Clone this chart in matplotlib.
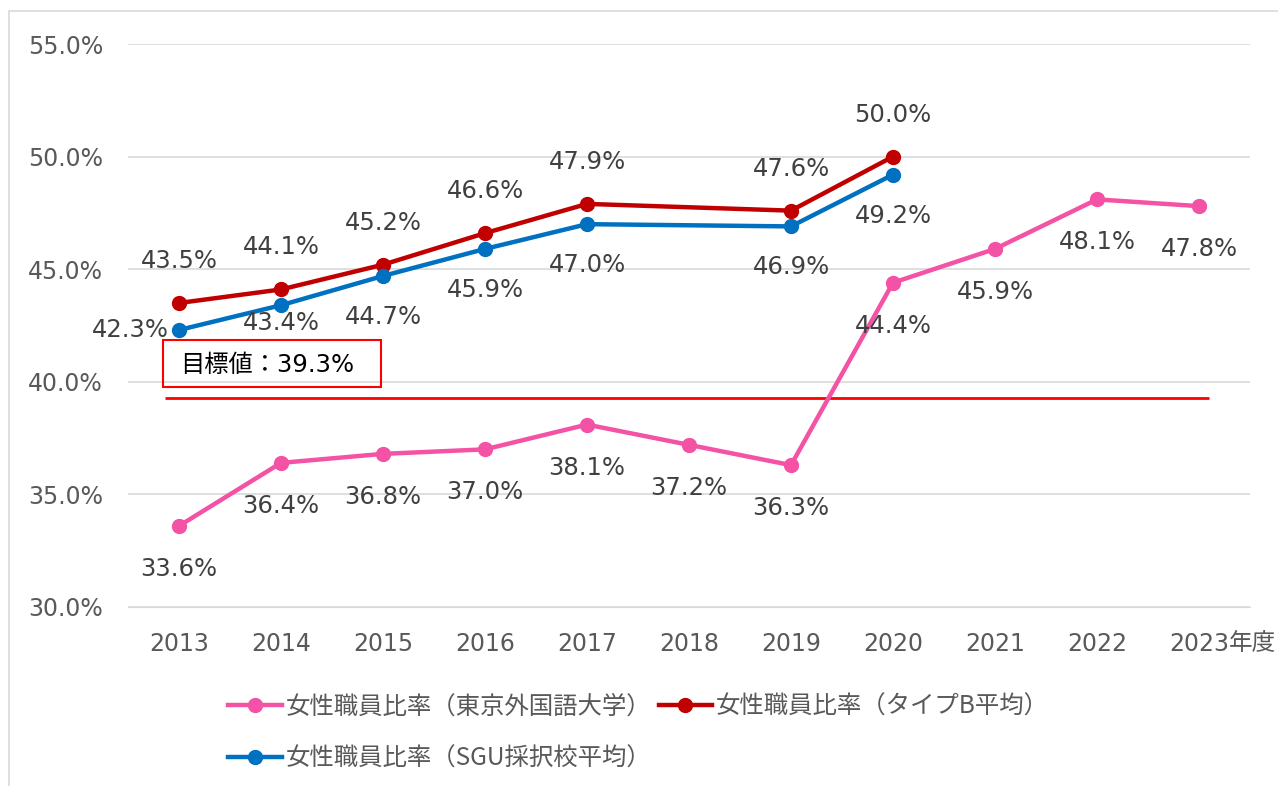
import matplotlib
matplotlib.use("Agg")
import matplotlib.pyplot as plt
from matplotlib.patches import Rectangle
from matplotlib.lines import Line2D

plt.rcParams['font.family'] = ['DejaVu Sans', 'Noto Sans CJK JP']

years = ['2013', '2014', '2015', '2016', '2017', '2018', '2019', '2020', '2021', '2022', '2023']
tufs = [33.6, 36.4, 36.8, 37.0, 38.1, 37.2, 36.3, 44.4, 45.9, 48.1, 47.8]
type_b_years = ['2013', '2014', '2015', '2016', '2017', '2019', '2020']
type_b = [43.5, 44.1, 45.2, 46.6, 47.9, 47.6, 50.0]
sgu_years = ['2013', '2014', '2015', '2016', '2017', '2019', '2020']
sgu = [42.3, 43.4, 44.7, 45.9, 47.0, 46.9, 49.2]
target = 39.3

names = ['女性職員比率（東京外国語大学）', '女性職員比率（タイプB平均）', '女性職員比率（SGU採択校平均）']
colors = ['#f452a5', '#c00000', '#0070c0']

label_color = '#404040'
tick_color = '#595959'
grid_color = '#d9d9d9'

W, H = 1278, 786
fig = plt.figure(figsize=(W / 100, H / 100), dpi=100)
ax = fig.add_axes([128 / W, 1 - 607 / H, (1250 - 128) / W, (607 - 44) / H])

xpos = {y: i for i, y in enumerate(years)}

def draw(yrs, vals, color):
    xs = [xpos[y] for y in yrs]
    ax.plot(xs, vals, '-o', color=color, lw=3.2, markersize=10, zorder=3)
    return xs

xs_t = draw(years, tufs, colors[0])
xs_b = draw(type_b_years, type_b, colors[1])
xs_s = draw(sgu_years, sgu, colors[2])

# data labels
fs = 17.5
for x, v in zip(xs_t, tufs):
    ax.annotate(f'{v:.1f}%', (x, v), xytext=(0, -43), textcoords='offset pixels',
                ha='center', va='center', fontsize=fs, color=label_color)
for x, v in zip(xs_b, type_b):
    ax.annotate(f'{v:.1f}%', (x, v), xytext=(0, 42), textcoords='offset pixels',
                ha='center', va='center', fontsize=fs, color=label_color)
for i, (x, v) in enumerate(zip(xs_s, sgu)):
    if i == 0:
        off, ha = (-10, 0), 'right'
    elif i == 1:
        off, ha = (0, -18), 'center'
    else:
        off, ha = (0, -41), 'center'
    ax.annotate(f'{v:.1f}%', (x, v), xytext=off, textcoords='offset pixels',
                ha=ha, va='center', fontsize=fs, color=label_color)

# target line
ax.hlines(target, -0.14, 10.1, color='#ff0000', lw=2, zorder=2)

ax.set_xlim(-0.5, len(years) - 0.5)
ax.set_ylim(30, 55)
ax.set_yticks(range(30, 56, 5))
ax.set_yticklabels([f'{t:.1f}%' for t in range(30, 56, 5)])
ax.set_xticks(range(len(years)))
ax.set_xticklabels(years)
ax.tick_params(axis='both', length=0, labelsize=17, labelcolor=tick_color)
ax.tick_params(axis='y', pad=18)
ax.tick_params(axis='x', pad=18)
ax.grid(axis='y', color=grid_color, lw=1.2)
ax.set_axisbelow(True)
for s in ax.spines.values():
    s.set_visible(False)
ax.spines['bottom'].set_visible(True)
ax.spines['bottom'].set_color(grid_color)

fig.text(1229 / W, 1 - 643 / H, '年度', ha='left', va='center',
         fontsize=17, color=tick_color, family='Noto Sans CJK JP')

# target box
fig.patches.append(Rectangle((163 / W, 1 - 387 / H), (381 - 163) / W, (387 - 340) / H,
                             transform=fig.transFigure, fill=False, ec='#ff0000', lw=1.5))
fig.text(180 / W, 1 - 365 / H, '目標値：39.3%', ha='left', va='center',
         fontsize=17.5, color='black')

# outer border
fig.patches.append(Rectangle((9 / W, -0.05), 1.1, 1 - 11 / H + 0.05,
                             transform=fig.transFigure, fill=False, ec=grid_color, lw=1.2))

handles = [Line2D([], [], color=c, lw=3.2, marker='o', markersize=10) for c in colors]
order = [0, 2, 1]
leg = fig.legend([handles[i] for i in order], [names[i] for i in order],
                 loc='upper left', bbox_to_anchor=(206 / W, 1 - 672 / H), ncol=2,
                 frameon=False, handlelength=2.2, handletextpad=0.15, columnspacing=0.3,
                 labelspacing=1.05, prop={'family': 'Noto Sans CJK JP', 'size': 17.6})
for t in leg.get_texts():
    t.set_color(tick_color)

fig.savefig('out.png', dpi=100)
